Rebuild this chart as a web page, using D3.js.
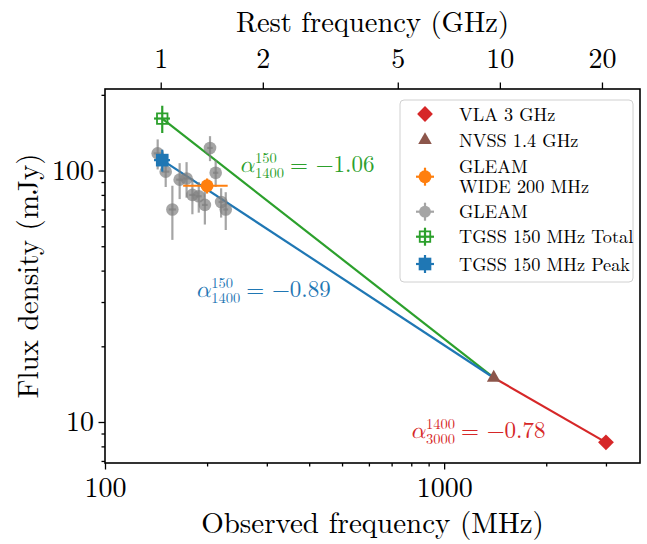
<!DOCTYPE html>
<html>
<head>
<meta charset="utf-8">
<script src="https://cdn.jsdelivr.net/npm/d3@7"></script>
<style>
    body { margin: 0; background: #fff; }
</style>
</head>
<body>
<svg id="chart" width="647" height="544" font-family="Latin Modern Roman, Liberation Serif, serif"></svg>
<script>
// redshift factor used for the rest frame axis
const onePlusZ = 6.85;
const restTicks = [1, 2, 5, 10, 20];
const obsTicks = [100, 1000];
const obsMinor = [200, 300, 400, 500, 600, 700, 800, 900, 2000, 3000];
const fluxTicks = [10, 100];
const fluxMinor = [7, 8, 9, 20, 30, 40, 50, 60, 70, 80, 90, 200];

// GLEAM sub-bands (MHz), flux (mJy) and errors
const gleamFreq = [143, 151, 158, 166, 174, 181, 189, 197, 204, 212, 220, 227];
const gleamFlux = [117, 99, 70, 92, 93, 80, 79, 73, 123, 98, 75, 70];
const gleamErr = [16, 13, 17, 15, 15, 13, 11, 12, 14, 12, 10, 12];
const gleamBand = 3.8;

const wideFreq = [200], wideFlux = [87], wideFreqErr = [30], wideErr = [6];
const tgssFreq = [147.5], tgssFreqErr = [8];
const tgssTotal = [161], tgssTotalErr = [20];
const tgssPeak = [110], tgssPeakErr = [11];
const nvss = [1400, 15];
const vla = [3000, 8.3];

const fits = [
    {from: [tgssFreq[0], tgssTotal[0]], to: nvss, color: "#2ca02c"},
    {from: [tgssFreq[0], tgssPeak[0]], to: nvss, color: "#1f77b4"},
    {from: nvss, to: vla, color: "#d62728"}
];
const alphaLabels = [
    {pos: [249, 98.5], sup: "150", sub: "1400", val: "= −1.06", color: "#2ca02c"},
    {pos: [185, 31.3], sup: "150", sub: "1400", val: "= −0.89", color: "#1f77b4"},
    {pos: [795, 8.6], sup: "1400", sub: "3000", val: "= −0.78", color: "#d62728"}
];
const legendLabels = ["VLA 3 GHz", "NVSS 1.4 GHz", ["GLEAM", "WIDE 200 MHz"], "GLEAM", "TGSS 150 MHz Total", "TGSS 150 MHz Peak"];

const width = 647, height = 544;
const margin = {top: 89, right: 7, bottom: 81, left: 105};
const FONT = "Latin Modern Roman, Liberation Serif, serif";

const svg = d3.select("#chart");

const x = d3.scaleLog().domain([100, 3780]).range([margin.left, width - margin.right]);
const y = d3.scaleLog().domain([6.87, 211]).range([height - margin.bottom, margin.top]);

// axes
const tickFont = g => g.attr("font-family", FONT).attr("font-size", 28)
    .call(g => g.select(".domain").remove())
    .call(g => g.selectAll("line").attr("stroke-width", 1.3));

svg.append("g")
    .attr("transform", `translate(0,${y.range()[0]})`)
    .call(d3.axisBottom(x).tickValues(obsTicks).tickFormat(d3.format("d")).tickSize(6.5).tickPadding(8))
    .call(tickFont);
svg.append("g")
    .attr("transform", `translate(0,${y.range()[0]})`)
    .call(d3.axisBottom(x).tickValues(obsMinor).tickFormat("").tickSize(3.5))
    .call(tickFont);
svg.append("g")
    .attr("transform", `translate(0,${margin.top})`)
    .call(d3.axisTop(x).tickValues(restTicks.map(r => r * 1000 / onePlusZ))
        .tickFormat((d, i) => restTicks[i]).tickSize(6.5).tickPadding(14.5))
    .call(tickFont);
svg.append("g")
    .attr("transform", `translate(${margin.left},0)`)
    .call(d3.axisLeft(y).tickValues(fluxTicks).tickFormat(d3.format("d")).tickSize(6.5).tickPadding(4.5))
    .call(tickFont);
svg.append("g")
    .attr("transform", `translate(${margin.left},0)`)
    .call(d3.axisLeft(y).tickValues(fluxMinor).tickFormat("").tickSize(3.5))
    .call(tickFont);

svg.append("rect")
    .attr("x", x.range()[0]).attr("y", y.range()[1])
    .attr("width", x.range()[1] - x.range()[0])
    .attr("height", y.range()[0] - y.range()[1])
    .attr("fill", "none").attr("stroke", "#000").attr("stroke-width", 1.6);

// axis titles
svg.append("text")
    .attr("x", (x.range()[0] + x.range()[1]) / 2).attr("y", 533)
    .attr("text-anchor", "middle").attr("font-size", 29)
    .text("Observed frequency (MHz)");
svg.append("text")
    .attr("x", (x.range()[0] + x.range()[1]) / 2).attr("y", 32)
    .attr("text-anchor", "middle").attr("font-size", 28.5)
    .text("Rest frequency (GHz)");
svg.append("text")
    .attr("transform", `translate(38,${(y.range()[0] + y.range()[1]) / 2}) rotate(-90)`)
    .attr("text-anchor", "middle").attr("font-size", 29)
    .text("Flux density (mJy)");

// fitted power laws
const plot = svg.append("g");
plot.selectAll(".fit")
    .data(fits)
    .join("line")
    .attr("class", "fit")
    .attr("x1", d => x(d.from[0])).attr("y1", d => y(d.from[1]))
    .attr("x2", d => x(d.to[0])).attr("y2", d => y(d.to[1]))
    .attr("stroke", d => d.color).attr("stroke-width", 2.2);

function errorPoint(g, fx, fy, fxe, fye, color, symbol, opts = {}) {
    const o = Object.assign({opacity: 1, hollow: false, lw: 2.2}, opts);
    const pg = g.append("g").attr("opacity", o.opacity);
    if (fye) {
        pg.append("line").attr("x1", x(fx)).attr("x2", x(fx))
            .attr("y1", y(fy - fye)).attr("y2", y(fy + fye))
            .attr("stroke", color).attr("stroke-width", o.lw);
    }
    if (fxe) {
        pg.append("line").attr("y1", y(fy)).attr("y2", y(fy))
            .attr("x1", x(fx - fxe)).attr("x2", x(fx + fxe))
            .attr("stroke", color).attr("stroke-width", o.lw);
    }
    pg.append("path")
        .attr("transform", `translate(${x(fx)},${y(fy)})${symbol.rotate ? " rotate(45)" : ""}`)
        .attr("d", d3.symbol().type(symbol.type).size(symbol.size)())
        .attr("fill", o.hollow ? "none" : color)
        .attr("stroke", color).attr("stroke-width", o.hollow ? 1.8 : 0);
}

gleamFreq.forEach((f, i) => {
    const pg = plot.append("g");
    pg.append("line").attr("x1", x(f)).attr("x2", x(f))
        .attr("y1", y(gleamFlux[i] - gleamErr[i])).attr("y2", y(gleamFlux[i] + gleamErr[i]))
        .attr("stroke", "#7f7f7f").attr("stroke-width", 2.2).attr("opacity", 0.7);
    pg.append("line").attr("y1", y(gleamFlux[i])).attr("y2", y(gleamFlux[i]))
        .attr("x1", x(f - gleamBand)).attr("x2", x(f + gleamBand))
        .attr("stroke", "#7f7f7f").attr("stroke-width", 2.2).attr("opacity", 0.7);
    pg.append("circle").attr("cx", x(f)).attr("cy", y(gleamFlux[i])).attr("r", 6.3)
        .attr("fill", "#7f7f7f").attr("opacity", 0.7);
});

errorPoint(plot, wideFreq[0], wideFlux[0], wideFreqErr[0], wideErr[0], "#ff7f0e", {type: d3.symbolCircle, size: 130});
errorPoint(plot, tgssFreq[0], tgssTotal[0], tgssFreqErr[0], tgssTotalErr[0], "#2ca02c", {type: d3.symbolSquare, size: 110}, {hollow: true});
errorPoint(plot, tgssFreq[0], tgssPeak[0], tgssFreqErr[0], tgssPeakErr[0], "#1f77b4", {type: d3.symbolSquare, size: 160});
errorPoint(plot, nvss[0], nvss[1], 0, 0, "#8c564b", {type: d3.symbolTriangle, size: 80});
errorPoint(plot, vla[0], vla[1], 0, 0, "#d62728", {type: d3.symbolSquare, size: 125, rotate: true});

// spectral index labels: one text element each, with stacked super/subscript
alphaLabels.forEach(d => {
    const x0 = x(d.pos[0]), yb = y(d.pos[1]);
    const t = svg.append("text").attr("x", x0).attr("y", yb).attr("fill", d.color).attr("font-size", 23);
    const a = t.append("tspan").attr("font-style", "italic")
        .attr("font-family", "Latin Modern Math, Latin Modern Roman, DejaVu Serif, serif").text("α");
    const aw = a.node().getComputedTextLength() + 1;
    const sp = t.append("tspan").attr("x", x0 + aw).attr("y", yb - 9).attr("font-size", 14.5).text(d.sup);
    const sb = t.append("tspan").attr("x", x0 + aw).attr("y", yb + 6).attr("font-size", 14.5).text(d.sub);
    const sw = Math.max(sp.node().getComputedTextLength(), sb.node().getComputedTextLength());
    t.append("tspan").attr("x", x0 + aw + sw + 6).attr("y", yb).text(d.val);
});

// legend
const legend = svg.append("g").attr("transform", "translate(400,100)");
legend.append("rect")
    .attr("width", 233).attr("height", 182).attr("rx", 4)
    .attr("fill", "#fff").attr("fill-opacity", 0.8)
    .attr("stroke", "#d0d0d0").attr("stroke-width", 1);

const rowY = [14, 40, 76.7, 111.7, 136.7, 164];
const legendSyms = [
    {color: "#d62728", sym: {type: d3.symbolSquare, size: 125, rotate: true}, err: false},
    {color: "#8c564b", sym: {type: d3.symbolTriangle, size: 80}, err: false},
    {color: "#ff7f0e", sym: {type: d3.symbolCircle, size: 130}, err: true},
    {color: "#7f7f7f", sym: {type: d3.symbolCircle, size: 110}, err: true, opacity: 0.7},
    {color: "#2ca02c", sym: {type: d3.symbolSquare, size: 110}, err: true, hollow: true},
    {color: "#1f77b4", sym: {type: d3.symbolSquare, size: 160}, err: true}
];
legendSyms.forEach((s, i) => {
    const eg = legend.append("g").attr("transform", `translate(25,${rowY[i]})`).attr("opacity", s.opacity || 1);
    if (s.err) {
        eg.append("line").attr("x1", -9).attr("x2", 9).attr("stroke", s.color).attr("stroke-width", 2.2);
        eg.append("line").attr("y1", -9).attr("y2", 9).attr("stroke", s.color).attr("stroke-width", 2.2);
    }
    eg.append("path")
        .attr("transform", s.sym.rotate ? "rotate(45)" : null)
        .attr("d", d3.symbol().type(s.sym.type).size(s.sym.size)())
        .attr("fill", s.hollow ? "none" : s.color)
        .attr("stroke", s.color).attr("stroke-width", s.hollow ? 1.8 : 0);
    const label = legendLabels[i];
    const lines = Array.isArray(label) ? label : [label];
    const t = legend.append("text").attr("x", 59).attr("font-size", 18.3);
    lines.forEach((ln, j) => {
        t.append("tspan").attr("x", 59)
            .attr("y", rowY[i] + 6.5 + (j - (lines.length - 1) / 2) * 20.5)
            .text(ln);
    });
});
</script>
</body>
</html>
